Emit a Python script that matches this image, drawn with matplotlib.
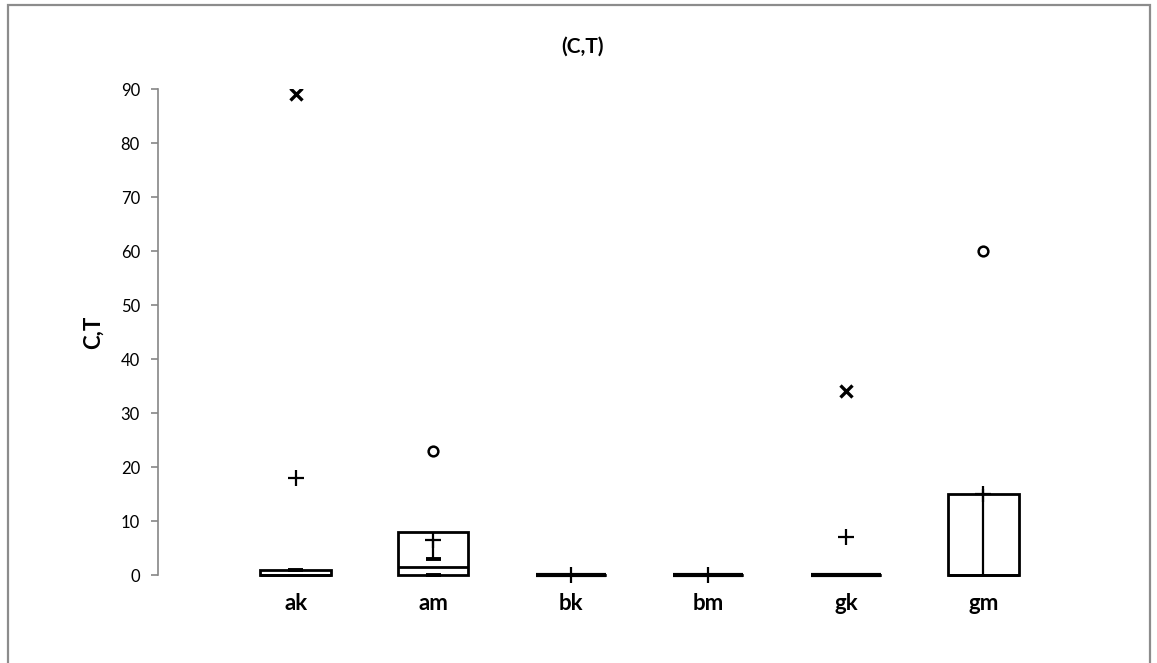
import matplotlib
matplotlib.use('Agg')
import matplotlib.pyplot as plt
from matplotlib.patches import Rectangle
import numpy as np

plt.rcParams['font.family'] = ['Lato', 'DejaVu Sans']

# -----------------------------------------------------------
#  数据
# -----------------------------------------------------------
categories = ['ak', 'am', 'bk', 'bm', 'gk', 'gm']
q1 = [0, 0, 0, 0, 0, 0]
q3 = [1, 8, 0, 0, 0, 15]
median = [0, 1.4, 0, 0, 0, 0]
mean = [18, 6.5, 0, 0, 7, 15]
stem_lo = [None, 3, None, None, None, 0]
stem_hi = [None, 6.5, None, None, None, 16]
caps = [[0.9], [0, 3], [], [], [0], []]
circle_out = [None, 23, None, None, None, 60]
star_out = [89, None, None, None, 34, None]
yticks = [0, 10, 20, 30, 40, 50, 60, 70, 80, 90]

W, H = 1157, 663
fig = plt.figure(figsize=(W / 100, H / 100), dpi=100)
ax = fig.add_axes([158 / W, 1 - 575 / H, (1121 - 158) / W, (575 - 89) / H])

x = np.arange(len(categories))
bw = 0.51
lw = 2.0

# 箱体
ax.bar(x, np.array(q3) - np.array(q1), bottom=q1, width=bw, fill=False,
       edgecolor='black', linewidth=lw, zorder=3, clip_on=False)
ax.hlines(median, x - bw / 2, x + bw / 2, color='black', linewidth=lw,
          zorder=4, clip_on=False)
# 零高度箱体画粗线
flat = [i for i in range(len(categories)) if q3[i] == q1[i]]
ax.hlines([q1[i] for i in flat], x[flat] - bw / 2, x[flat] + bw / 2,
          color='black', linewidth=3.0, zorder=4, clip_on=False)

# 竖线 / 端帽
for i in range(len(categories)):
    if stem_lo[i] is not None:
        ax.vlines(x[i], stem_lo[i], stem_hi[i], color='black', linewidth=1.6,
                  zorder=4, clip_on=False)
    for c in caps[i]:
        ax.hlines(c, x[i] - 0.055, x[i] + 0.055, color='black', linewidth=2.8,
                  zorder=5, clip_on=False)

# 均值 (+) 与离群点
ax.plot(x, mean, linestyle='none', marker='+', markersize=12, markeredgewidth=1.6,
        color='black', zorder=6, clip_on=False)
co = [(x[i], v) for i, v in enumerate(circle_out) if v is not None]
ax.plot([p[0] for p in co], [p[1] for p in co], linestyle='none', marker='o',
        markersize=7, markerfacecolor='white', markeredgecolor='black',
        markeredgewidth=1.8, zorder=6)
so = [(x[i], v) for i, v in enumerate(star_out) if v is not None]
ax.plot([p[0] for p in so], [p[1] for p in so], linestyle='none', marker='x',
        markersize=8, markeredgewidth=2.4, color='black', zorder=6)

# 坐标轴
ax.set_xlim(-1, 6)
ax.set_ylim(0, 90)
ax.set_yticks(yticks)
ax.set_xticks(x)
ax.set_xticklabels(categories, fontsize=16, fontweight='bold')
ax.tick_params(axis='x', length=0, pad=13)
ax.tick_params(axis='y', length=5, width=1.2, color='#868686', labelsize=12,
               pad=8, direction='out')
for s in ['top', 'right', 'bottom']:
    ax.spines[s].set_visible(False)
ax.spines['left'].set_color('#868686')
ax.spines['left'].set_linewidth(1.2)
ax.spines['left'].set_bounds(0, 90)

ax.set_ylabel('C,T', fontsize=16, fontweight='bold', labelpad=12)
fig.text(583 / W, 1 - 47 / H, '(C,T)', ha='center', va='center',
         fontsize=15, fontweight='bold')

# 外框
fig.patches.append(Rectangle((8 / W, -0.01), (1150 - 8) / W, 1 - 5 / H + 0.01,
                             transform=fig.transFigure, fill=False,
                             edgecolor='#8c8c8c', linewidth=1.6))

fig.savefig('out.png', dpi=100)
